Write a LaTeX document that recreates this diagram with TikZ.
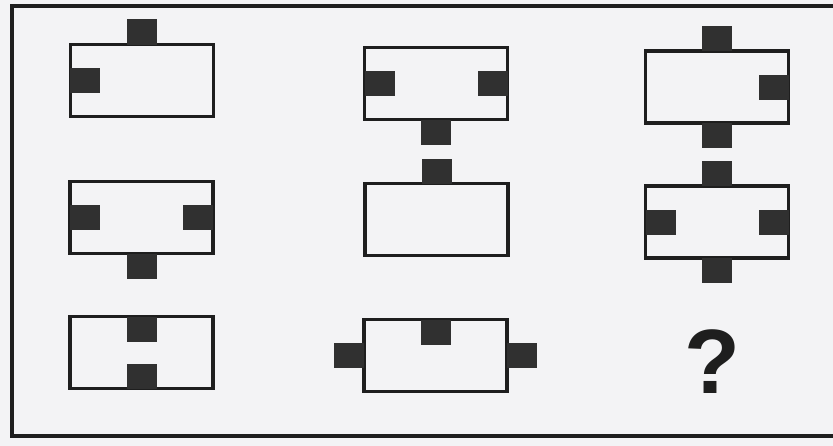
\documentclass[tikz,border=0pt]{standalone}
\usepackage{fontspec}
\setmainfont{Liberation Sans}
\usetikzlibrary{positioning}
\definecolor{paper}{RGB}{243,243,245}
\definecolor{ink}{RGB}{30,30,30}

\begin{document}
\begin{tikzpicture}[x=0.03cm,y=-0.03cm,
  panel/.style={draw=ink,line width=2.9pt,minimum width=4.29cm,minimum height=2.16cm,inner sep=0pt,outer sep=0pt},
  block/.style={fill=ink!92,minimum width=0.9cm,minimum height=0.75cm,inner sep=0pt,outer sep=0pt}]
\clip (0,0) rectangle (833,446);
\fill[paper] (0,0) rectangle (833,446);
\draw[ink,line width=3.4pt] (850,6) -- (12,6) -- (12,436) -- (850,436);

\node[panel] (p11) at (142,80.5) {};
\node[panel] (p12) at (436,83.5) {};
\node[panel] (p13) at (717,87) {};
\node[panel] (p21) at (141.5,217.5) {};
\node[panel] (p22) at (436.5,219.5) {};
\node[panel] (p23) at (717,222) {};
\node[panel] (p31) at (141.5,352.5) {};
\node[panel] (p32) at (435.5,355.5) {};

\node[block,anchor=south] (p11t) at (p11.north) {};
\node[block,anchor=west] (p11l) at (p11.west) {};

\node[block,anchor=west] (p12l) at (p12.west) {};
\node[block,anchor=east] (p12r) at (p12.east) {};
\node[block,anchor=north] (p12b) at (p12.south) {};

\node[block,anchor=south] (p13t) at (p13.north) {};
\node[block,anchor=east] (p13r) at (p13.east) {};
\node[block,anchor=north] (p13b) at (p13.south) {};

\node[block,anchor=west] (p21l) at (p21.west) {};
\node[block,anchor=east] (p21r) at (p21.east) {};
\node[block,anchor=north] (p21b) at (p21.south) {};

\node[block,anchor=south] (p22t) at (p22.north) {};

\node[block,anchor=south] (p23t) at (p23.north) {};
\node[block,anchor=west] (p23l) at (p23.west) {};
\node[block,anchor=east] (p23r) at (p23.east) {};
\node[block,anchor=north] (p23b) at (p23.south) {};

\node[block,anchor=north] (p31t) at (p31.north) {};
\node[block,anchor=south] (p31b) at (p31.south) {};

\node[block,anchor=north] (p32t) at (p32.north) {};
\node[block,anchor=east] (p32l) at (p32.west) {};
\node[block,anchor=west] (p32r) at (p32.east) {};

\node[ink,inner sep=0pt] (q) at (712,362) {\fontsize{78}{78}\selectfont\bfseries ?};

\end{tikzpicture}
\end{document}
